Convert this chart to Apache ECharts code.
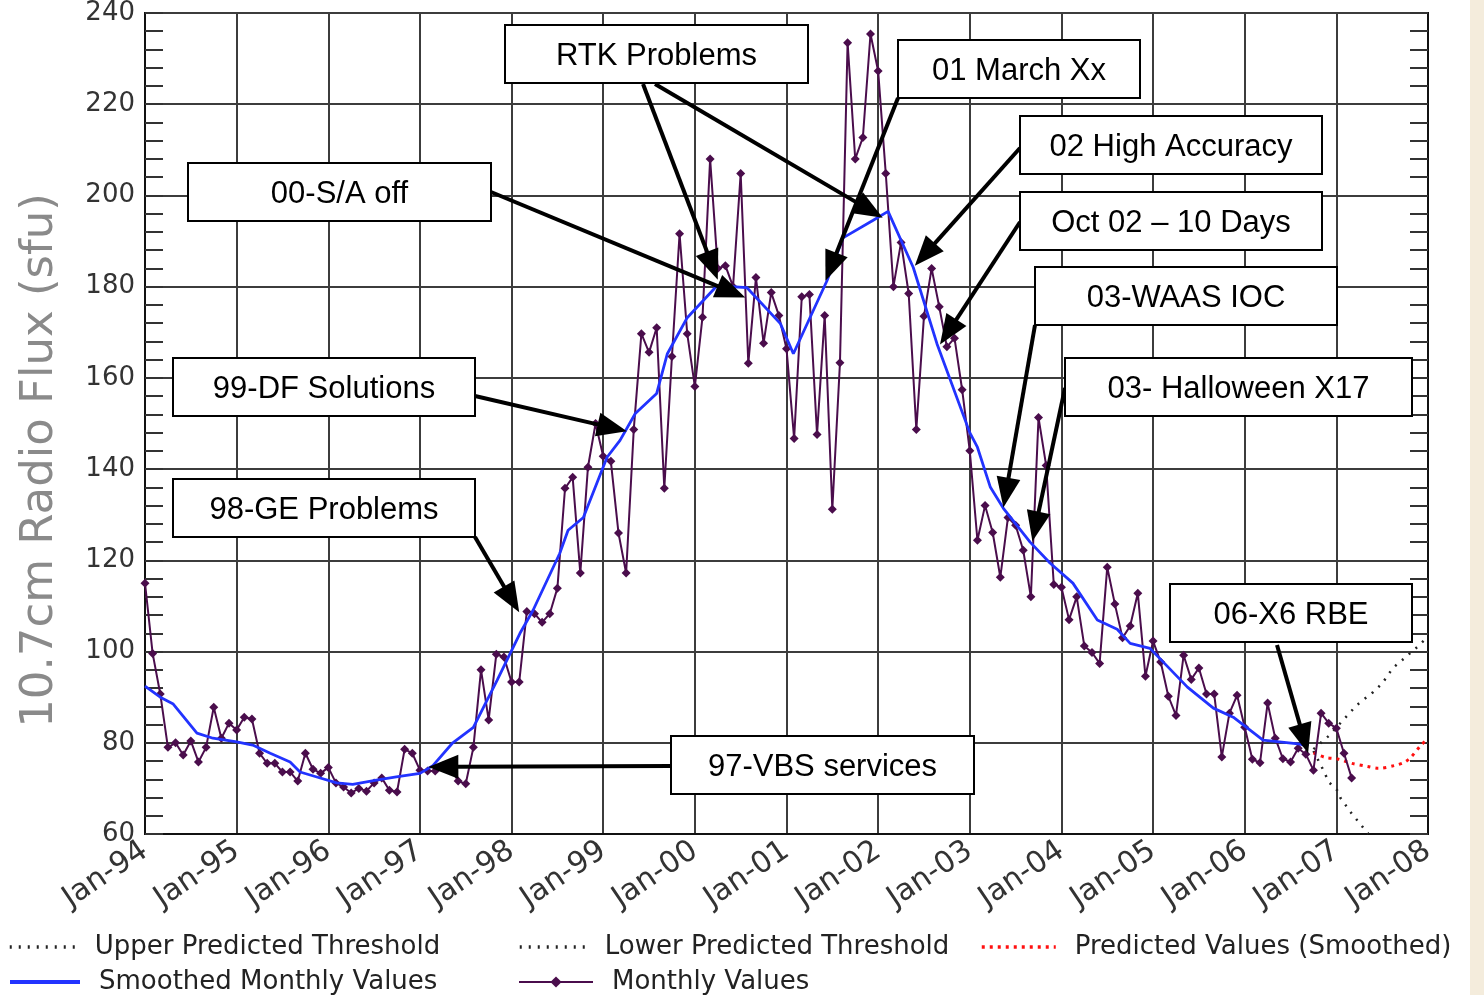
<!DOCTYPE html>
<html><head><meta charset="utf-8">
<script src="https://cdn.jsdelivr.net/npm/echarts@6/dist/echarts.min.js"></script>
<style>html,body{margin:0;padding:0;background:#fff;}#c{width:1484px;height:995px;}</style>
</head><body><div id="c"></div>
<script>
// ---- tick labels (one per January, x = months since Jan-94) ----
const tickLabels = ['Jan-94','Jan-95','Jan-96','Jan-97','Jan-98','Jan-99','Jan-00','Jan-01','Jan-02','Jan-03','Jan-04','Jan-05','Jan-06','Jan-07','Jan-08'];

// ---- monthly values (sfu), Jan 1994 onward ----
const monthly1994 = [115, 99.6, 90.7, 79, 80, 77.3, 80.4, 75.8, 79, 87.8, 81, 84.3];
const monthly1995 = [82.8, 85.6, 85.2, 77.7, 75.5, 75.5, 73.6, 73.6, 71.6, 77.7, 74.2, 73.3];
const monthly1996 = [74.6, 71.2, 70.3, 69, 70, 69.4, 71.2, 72.3, 69.6, 69.2, 78.6, 77.7];
const monthly1997 = [74, 73.8, 73.8, 74.9, 74.6, 71.6, 71, 79, 96, 85, 99.4, 98.8];
const monthly1998 = [93.3, 93.3, 108.8, 108.3, 106.4, 108.3, 113.9, 135.8, 138.2, 117.2, 140.4, 150];
const monthly1999 = [142.8, 141.7, 126, 117.2, 148.7, 169.7, 165.6, 171, 135.8, 164.7, 191.6, 169.7];
const monthly2000 = [158.1, 173.3, 208, 184, 184.6, 180, 204.8, 163.2, 182, 167.6, 178.7, 173.7];
const monthly2001 = [166.4, 146.7, 177.8, 178.3, 147.6, 173.7, 131.2, 163.3, 233.5, 208, 212.7, 235.4];
const monthly2002 = [227.3, 204.8, 180, 189.7, 178.5, 148.7, 173.5, 184, 175.6, 166.8, 168.7, 157.4];
const monthly2003 = [144, 124.4, 132, 126.1, 116.3, 129.4, 127.7, 122.2, 112, 151.3, 140.8, 114.7];
const monthly2004 = [114.1, 107, 112, 101.2, 99.8, 97.4, 118.5, 110.4, 103, 105.6, 112.8, 94.6];
const monthly2005 = [102.3, 97.7, 90.2, 86, 99.2, 93.9, 96.4, 90.7, 90.7, 76.9, 86.5, 90.4];
const monthly2006 = [83.4, 76.4, 75.6, 88.7, 81, 76.5, 75.8, 78.8, 77.5, 74, 86.5, 84.3];
const monthly2007 = [83.2, 77.7, 72.3];

// ---- smoothed monthly values: [months since Jan-94, sfu] ----
const smoothed = [[0,92.4],[2,90],[3.7,88.5],[6.8,82.1],[8.9,81],[12,80.2],[14.1,79.5],[16.4,77.7],[19,75.8],[20.3,73.6],[22.5,72.5],[25.1,71.2],[27.2,70.9],[30.3,71.8],[32.9,72.5],[36,73.3],[37.7,75],[40.3,80],[43,83.4],[46.1,93.7],[49.1,104],[50.8,109],[54.3,121.5],[55.4,126.6],[57.4,129.4],[60.5,142.6],[62.2,146.3],[64.2,152.2],[67,156.6],[68.4,165.3],[71,173.2],[74.9,180.2],[78.8,179.8],[83.2,171.9],[84.9,165.3],[89.3,181.3],[91.4,190.7],[95.3,194.5],[97.3,196.5],[100.6,184.2],[103.7,167.5],[108,148],[109,144.8],[110.7,136],[112.4,131.4],[115.9,124],[118.5,119.4],[121.5,115],[124.7,106.9],[127.3,104.9],[129,101.8],[131.6,100.7],[136.5,92.2],[139.9,87.6],[142.5,85.6],[146.4,80.6],[151.3,79.7],[152.3,79.2]];

// ---- predictions ----
const upperThreshold = [[153,78.6],[155,81.5],[156.9,85],[158.7,88.3],[160.8,91.1],[162,93],[163.4,96.4],[164.6,98.1],[166.6,101],[168,103.3]];
const lowerThreshold = [[153,78.2],[154.3,74],[155,71.4],[156.1,69.6],[156.5,68],[158,64.5],[160.2,60]];
const predictedSmoothed = [[153,77.8],[154.5,76.8],[156.3,76.4],[158,75.5],[160.1,74.8],[161.5,74.4],[163.6,75],[165,75.8],[165.8,76.9],[167,79.3],[168,81]];

// ---- annotations: box (pixels), arrow start (pixels), arrow tip [months, sfu] ----
const annotationBoxes = [
  {text:'RTK Problems', x:505, y:25, w:303, h:58},
  {text:'01 March Xx', x:898, y:40, w:242, h:58},
  {text:'02 High Accuracy', x:1020, y:116, w:302, h:58},
  {text:'Oct 02 \u2013 10 Days', x:1020, y:192, w:302, h:58},
  {text:'03-WAAS IOC', x:1035, y:267, w:302, h:58},
  {text:'03- Halloween X17', x:1065, y:358, w:347, h:58},
  {text:'00-S/A off', x:188, y:163, w:303, h:58},
  {text:'99-DF Solutions', x:173, y:358, w:302, h:58},
  {text:'98-GE Problems', x:173, y:479, w:302, h:58},
  {text:'97-VBS services', x:671, y:736, w:303, h:58},
  {text:'06-X6 RBE', x:1170, y:584, w:242, h:58}
];
const annotationArrows = [
  {from:[643,84], tip:[75.0,181.5]},
  {from:[655,84], tip:[96.6,195.1]},
  {from:[898,98], tip:[89.1,181.3]},
  {from:[1020,148], tip:[100.8,184.6]},
  {from:[1020,222], tip:[104.1,167.3]},
  {from:[1035,325], tip:[112.4,131.6]},
  {from:[1065,388], tip:[116.2,124.2]},
  {from:[491,192], tip:[78.6,177.6]},
  {from:[475,396], tip:[63.1,148.3]},
  {from:[475,537], tip:[49.0,108.6]},
  {from:[671,766], tip:[37.1,74.7]},
  {from:[1277,645], tip:[152.3,77.7]}
];

const monthlyValues = [].concat(monthly1994, monthly1995, monthly1996, monthly1997, monthly1998, monthly1999,
  monthly2000, monthly2001, monthly2002, monthly2003, monthly2004, monthly2005, monthly2006, monthly2007);
const monthlyData = monthlyValues.map((v, i) => [i, v]);

const FONT = "'DejaVu Sans', sans-serif";
const gridLine = {color:'#3c3c3c', width:2};

function legendAt(name, left, top, iconW, extra) {
  return Object.assign({
    data:[name], left:left, top:top, padding:0, itemWidth:iconW, itemHeight:14,
    selectedMode:false,
    textStyle:{fontFamily:FONT, fontSize:26, color:'#222', padding:[0,0,0,14]}
  }, extra || {});
}
const dottedLegend = {itemStyle:{opacity:0}, lineStyle:{width:3.5}};

const chart = echarts.init(document.getElementById('c'));
chart.setOption({
  animation:false,
  backgroundColor:'#fff',
  grid:{left:145, right:56, top:12, bottom:161, show:true, borderColor:'#111', borderWidth:2, backgroundColor:'transparent'},
  xAxis:{
    type:'value', min:0, max:168, interval:12,
    axisLine:{show:true, lineStyle:{color:'#111', width:2}},
    axisTick:{show:false},
    splitLine:{show:true, lineStyle:gridLine},
    axisLabel:{formatter:(v)=>tickLabels[Math.round(v/12)], rotate:34, fontFamily:FONT, fontSize:30, color:'#333', margin:14}
  },
  yAxis:[{
    type:'value', min:60, max:240, interval:20, position:'left',
    axisLine:{show:true, lineStyle:{color:'#111', width:2}},
    axisTick:{show:true, inside:true, length:18, lineStyle:{color:'#333', width:2}},
    minorTick:{show:true, splitNumber:5, length:18, lineStyle:{color:'#333', width:2}},
    splitLine:{show:true, lineStyle:gridLine},
    axisLabel:{fontFamily:FONT, fontSize:26, color:'#333', margin:10},
    name:'10.7cm Radio Flux (sfu)', nameLocation:'middle', nameGap:82,
    nameTextStyle:{fontFamily:FONT, fontSize:45, color:'#8a8a8a', padding:[0,74,0,0]}
  },{
    type:'value', min:60, max:240, interval:20, position:'right',
    axisLine:{show:true, lineStyle:{color:'#111', width:2}},
    axisTick:{show:true, inside:true, length:18, lineStyle:{color:'#333', width:2}},
    minorTick:{show:true, splitNumber:5, length:18, lineStyle:{color:'#333', width:2}},
    splitLine:{show:false}, axisLabel:{show:false}
  }],
  legend:[
    legendAt('Upper Predicted Threshold', 8, 934, 66, dottedLegend),
    legendAt('Lower Predicted Threshold', 518, 934, 66, dottedLegend),
    legendAt('Predicted Values (Smoothed)', 980, 934, 74, dottedLegend),
    legendAt('Smoothed Monthly Values', 8, 969, 70, {lineStyle:{width:4}, itemStyle:{opacity:0}}),
    legendAt('Monthly Values', 518, 969, 74)
  ],
  series:[
    {name:'Upper Predicted Threshold', type:'line', data:upperThreshold, symbol:'none', clip:true,
     lineStyle:{color:'#222', width:2.5, type:[2,7]}, itemStyle:{color:'#222'}, z:3},
    {name:'Lower Predicted Threshold', type:'line', data:lowerThreshold, symbol:'none', clip:true,
     lineStyle:{color:'#222', width:2.5, type:[2,7]}, itemStyle:{color:'#222'}, z:3},
    {name:'Predicted Values (Smoothed)', type:'line', data:predictedSmoothed, symbol:'none', smooth:0.3,
     lineStyle:{color:'#ff1010', width:3, type:[3,5]}, itemStyle:{color:'#ff1010'}, z:3},
    {name:'Monthly Values', type:'line', data:monthlyData, symbol:'diamond', symbolSize:9, showSymbol:true,
     lineStyle:{color:'#4a0d4c', width:2}, itemStyle:{color:'#4a0d4c'}, z:4},
    {name:'Smoothed Monthly Values', type:'line', data:smoothed, symbol:'none',
     lineStyle:{color:'#2233ff', width:2.8}, itemStyle:{color:'#2233ff'}, z:5}
  ]
});

// ---- annotations drawn on top, arrow tips located through the chart's scales ----
const gfx = [];
gfx.push({type:'rect', shape:{x:1470, y:0, width:14, height:995}, style:{fill:'#f4ecdc'}, z:0, silent:true});
annotationArrows.forEach(a => {
  const tip = chart.convertToPixel({gridIndex:0}, a.tip);
  const dx = tip[0]-a.from[0], dy = tip[1]-a.from[1];
  const len = Math.sqrt(dx*dx+dy*dy), ux = dx/len, uy = dy/len;
  const head = 30, half = 12;
  const bx = tip[0]-ux*head, by = tip[1]-uy*head;
  gfx.push({type:'line', shape:{x1:a.from[0], y1:a.from[1], x2:bx+ux*2, y2:by+uy*2},
    style:{stroke:'#000', lineWidth:4}, z:100});
  gfx.push({type:'polygon', shape:{points:[[tip[0],tip[1]],[bx-uy*half, by+ux*half],[bx+uy*half, by-ux*half]]},
    style:{fill:'#000'}, z:100});
});
annotationBoxes.forEach(b => {
  gfx.push({type:'rect', shape:{x:b.x, y:b.y, width:b.w, height:b.h},
    style:{fill:'#fff', stroke:'#000', lineWidth:2}, z:110});
  gfx.push({type:'text', x:b.x+b.w/2, y:b.y+b.h/2+2, z:111,
    style:{text:b.text, fontFamily:"'Liberation Sans', Arial, sans-serif", fontSize:31, fill:'#000', align:'center', verticalAlign:'middle'}});
});
chart.setOption({graphic:gfx});
</script>
</body></html>
